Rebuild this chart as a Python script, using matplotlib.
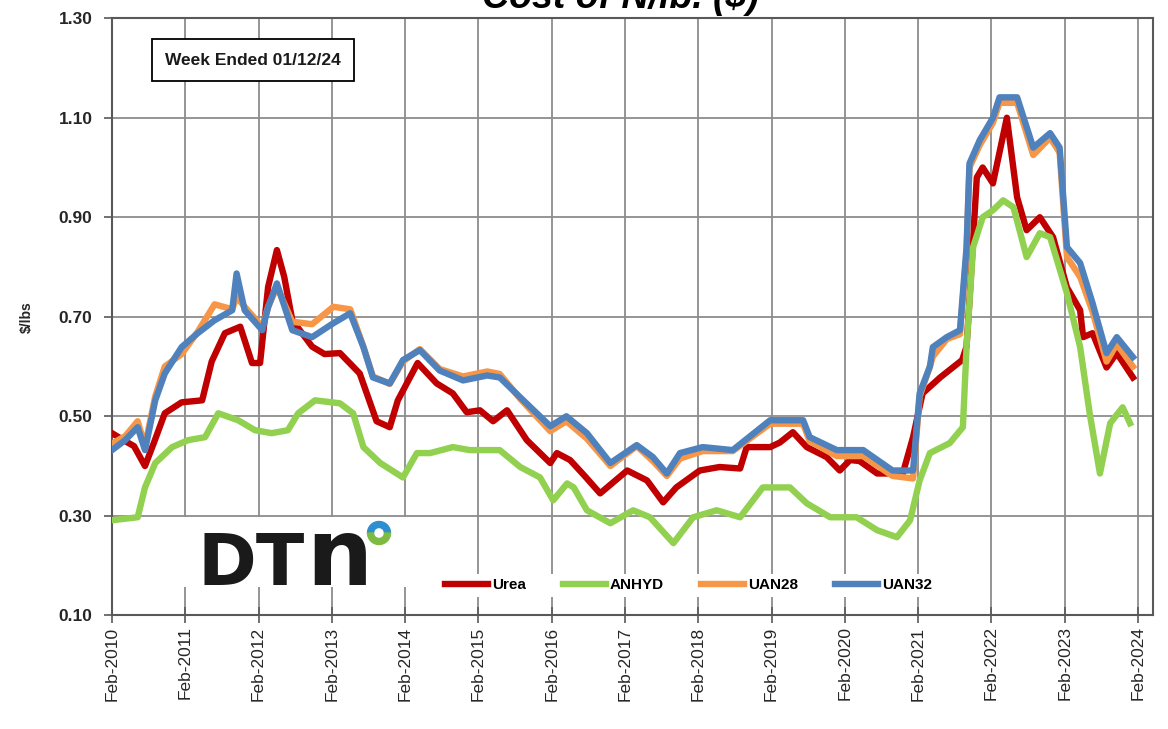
import numpy as np
import matplotlib as mpl
mpl.use("Agg")
import matplotlib.pyplot as plt
from matplotlib.patches import Rectangle, Wedge

# time axis: years since Feb-2010
tick_labels = [f"Feb-{y}" for y in range(2010, 2025)]

urea_t = [0, 0.18, 0.3, 0.45, 0.58, 0.72, 0.95, 1.23, 1.36, 1.54, 1.75, 1.91, 2.02, 2.13,
          2.25, 2.35, 2.46, 2.73, 2.9, 3.11, 3.38, 3.61, 3.79, 3.9, 4.17, 4.43, 4.65, 4.84,
          5.02, 5.2, 5.39, 5.66, 5.98, 6.07, 6.25, 6.45, 6.66, 7.03, 7.3, 7.52, 7.7, 8.02,
          8.29, 8.57, 8.66, 8.98, 9.11, 9.29, 9.48, 9.75, 9.93, 10.07, 10.2, 10.44, 10.79,
          10.93, 11.06, 11.3, 11.6, 11.66, 11.7, 11.8, 11.88, 12.02, 12.21, 12.35, 12.48,
          12.66, 12.84, 13.03, 13.21, 13.25, 13.38, 13.57, 13.71, 13.93]
urea_v = [0.466, 0.45, 0.44, 0.40, 0.45, 0.506, 0.528, 0.532, 0.61, 0.667, 0.68, 0.607,
          0.607, 0.76, 0.834, 0.78, 0.693, 0.64, 0.625, 0.627, 0.586, 0.49, 0.478, 0.532,
          0.607, 0.566, 0.546, 0.508, 0.512, 0.49, 0.512, 0.452, 0.406, 0.426, 0.412, 0.38,
          0.345, 0.391, 0.371, 0.327, 0.357, 0.391, 0.398, 0.395, 0.438, 0.438, 0.447, 0.468,
          0.438, 0.418, 0.391, 0.412, 0.41, 0.385, 0.385, 0.458, 0.546, 0.578, 0.613, 0.64,
          0.733, 0.98, 1.0, 0.968, 1.10, 0.94, 0.874, 0.90, 0.86, 0.759, 0.713, 0.659, 0.667,
          0.598, 0.627, 0.578]

anhyd_t = [0, 0.35, 0.45, 0.59, 0.82, 1.04, 1.27, 1.45, 1.72, 1.95, 2.18, 2.4, 2.54, 2.77,
           3.11, 3.29, 3.43, 3.66, 3.97, 4.16, 4.34, 4.65, 4.88, 5.29, 5.57, 5.84, 6.02, 6.21,
           6.3, 6.48, 6.8, 7.11, 7.34, 7.66, 7.93, 8.25, 8.57, 8.88, 9.25, 9.48, 9.8, 10.16,
           10.44, 10.71, 10.89, 11.02, 11.16, 11.43, 11.61, 11.66, 11.75, 11.88, 12.02, 12.16,
           12.3, 12.48, 12.66, 12.8, 13.03, 13.21, 13.34, 13.48, 13.62, 13.79, 13.89]
anhyd_v = [0.291, 0.297, 0.357, 0.406, 0.438, 0.452, 0.458, 0.506, 0.492, 0.472, 0.466,
           0.472, 0.506, 0.532, 0.526, 0.506, 0.438, 0.406, 0.377, 0.426, 0.426, 0.438, 0.432,
           0.432, 0.398, 0.377, 0.331, 0.365, 0.357, 0.311, 0.285, 0.311, 0.297, 0.245, 0.297,
           0.311, 0.297, 0.357, 0.357, 0.325, 0.297, 0.297, 0.271, 0.257, 0.291, 0.371, 0.426,
           0.446, 0.478, 0.639, 0.84, 0.90, 0.914, 0.934, 0.92, 0.82, 0.868, 0.86, 0.747,
           0.639, 0.506, 0.385, 0.486, 0.518, 0.486]

uan_t = [0, 0.18, 0.35, 0.45, 0.59, 0.72, 0.95, 1.17, 1.4, 1.64, 1.7, 1.81, 2.05, 2.13, 2.25,
         2.46, 2.73, 3.02, 3.25, 3.43, 3.56, 3.79, 3.97, 4.2, 4.47, 4.79, 5.12, 5.29, 5.57,
         5.98, 6.2, 6.48, 6.8, 7.16, 7.38, 7.57, 7.75, 8.06, 8.47, 8.98, 9.43, 9.52, 9.89,
         10.25, 10.65, 10.93, 11.02, 11.16, 11.2, 11.39, 11.57, 11.66, 11.7, 11.84, 12.02,
         12.11, 12.35, 12.57, 12.8, 12.93, 13.03, 13.21, 13.38, 13.57, 13.71, 13.93]
uan28_v = [0.445, 0.46, 0.49, 0.44, 0.54, 0.60, 0.625, 0.67, 0.725, 0.715, 0.74, 0.72, 0.68,
           0.72, 0.76, 0.69, 0.685, 0.72, 0.715, 0.64, 0.58, 0.565, 0.61, 0.635, 0.595, 0.58,
           0.59, 0.585, 0.535, 0.47, 0.49, 0.455, 0.40, 0.44, 0.41, 0.38, 0.415, 0.43, 0.43,
           0.485, 0.485, 0.45, 0.42, 0.42, 0.38, 0.375, 0.54, 0.60, 0.62, 0.655, 0.665, 0.83,
           1.0, 1.045, 1.09, 1.13, 1.13, 1.025, 1.06, 1.03, 0.82, 0.78, 0.71, 0.61, 0.645, 0.60]
uan32_v = [0.432, 0.452, 0.478, 0.432, 0.532, 0.586, 0.639, 0.667, 0.693, 0.713, 0.787,
           0.713, 0.673, 0.719, 0.767, 0.673, 0.659, 0.687, 0.707, 0.639, 0.578, 0.566, 0.613,
           0.633, 0.592, 0.572, 0.582, 0.578, 0.538, 0.48, 0.50, 0.466, 0.406, 0.442, 0.418,
           0.385, 0.426, 0.438, 0.432, 0.492, 0.492, 0.458, 0.432, 0.432, 0.391, 0.391, 0.546,
           0.60, 0.639, 0.659, 0.673, 0.84, 1.008, 1.055, 1.10, 1.141, 1.141, 1.04, 1.069,
           1.04, 0.84, 0.808, 0.727, 0.627, 0.659, 0.619]

plt.rcParams["font.family"] = ["Liberation Sans", "DejaVu Sans"]

fig = plt.figure(figsize=(11.68, 7.29), dpi=100)
ax = fig.add_axes([0.0959, 0.156, 0.891, 0.819])

lw = 4.6
ax.plot(urea_t, urea_v, color="#C00000", lw=lw, label="Urea", zorder=3)
ax.plot(anhyd_t, anhyd_v, color="#92D050", lw=lw, label="ANHYD", zorder=4)
ax.plot(uan_t, uan28_v, color="#F79646", lw=lw, label="UAN28", zorder=5)
ax.plot(uan_t, uan32_v, color="#4F81BD", lw=lw, label="UAN32", zorder=6)

ax.set_xlim(0, 14.2)
ax.set_ylim(0.10, 1.30)
ax.set_xticks(range(len(tick_labels)))
ax.set_xticklabels(tick_labels, rotation=90, fontsize=12.5, color="#262626")
yt = np.arange(0.10, 1.31, 0.20)
ax.set_yticks(yt)
ax.set_yticklabels([f"{v:.2f}" for v in yt], fontsize=12.5, fontweight="bold", color="#262626")
ax.tick_params(axis="x", direction="inout", length=12, width=1.2, color="#595959", pad=2)
ax.tick_params(axis="y", direction="out", length=6, width=1.2, color="#595959", pad=8)

ax.set_axisbelow(True)
ax.grid(True, color="#8c8c8c", lw=1.3)
for s in ax.spines.values():
    s.set_color("#595959")
    s.set_linewidth(1.5)

ax.set_ylabel("$/lbs", fontsize=10, fontweight="bold", color="#262626", labelpad=6)
ax.yaxis.set_label_coords(-0.075, 0.5)

# white patch behind logo
ax.add_patch(Rectangle((0.04, 0.047), 0.30, 0.117, transform=ax.transAxes,
                       facecolor="white", edgecolor="none", zorder=1))

ax.text(0.1355, 0.93, "Week Ended 01/12/24", transform=ax.transAxes, ha="center",
        va="center", fontsize=12.5, fontweight="bold", color="#1a1a1a", zorder=7,
        bbox=dict(boxstyle="square,pad=0.75", facecolor="white", edgecolor="black", lw=1.3))

# DTN logo
fig.text(197 / 1168, 1 - 585 / 729, "DT", fontsize=51, fontweight="bold",
         color="#1a1a1a", family="DejaVu Sans", ha="left", va="baseline")
fig.text(306 / 1168, 1 - 585 / 729, "n", fontsize=67, fontweight="bold",
         color="#1a1a1a", family="DejaVu Sans", ha="left", va="baseline")
cx, cy = 379 / 100, (729 - 533) / 100
fig.patches.append(Wedge((cx, cy), 0.115, 0, 180, width=0.06, color="#2E8FD0",
                         transform=fig.dpi_scale_trans))
fig.patches.append(Wedge((cx, cy), 0.115, 180, 360, width=0.06, color="#7DBB42",
                         transform=fig.dpi_scale_trans))

leg = ax.legend(loc="center", bbox_to_anchor=(0.554, 0.05), ncol=4, frameon=True,
                handlelength=2.8, columnspacing=2.4, handletextpad=0.3,
                borderpad=0.3, prop={"weight": "bold", "size": 11})
leg.get_frame().set_facecolor("white")
leg.get_frame().set_edgecolor("none")
leg.get_frame().set_alpha(1)
leg.set_zorder(8)

fig.text(620 / 1168, 1 - 8 / 729, "Cost of N/lb. ($)", ha="center", va="baseline",
         fontsize=27, fontweight="bold", style="italic", color="black")

fig.savefig("out.png", dpi=100, facecolor="white")
